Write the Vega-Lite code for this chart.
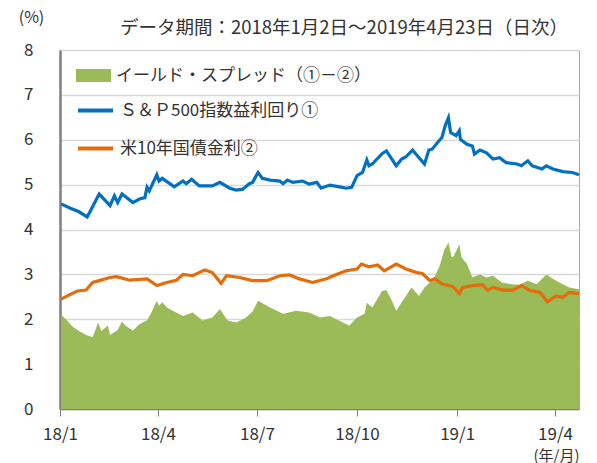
{
  "$schema": "https://vega.github.io/schema/vega-lite/v6.json",
  "width": 519,
  "height": 359,
  "autosize": {"type": "none"},
  "padding": {"left": 60, "top": 50, "right": 18, "bottom": 54},
  "background": "white",
  "config": {
    "font": "Noto Sans CJK JP",
    "view": {"stroke": "#A6A6A6", "strokeWidth": 1}
  },
  "title": {
    "text": "データ期間：2018年1月2日～2019年4月23日（日次）",
    "anchor": "end",
    "frame": "group",
    "fontSize": 18.5,
    "fontWeight": "normal",
    "color": "#333333",
    "font": "Noto Sans CJK JP",
    "baseline": "bottom",
    "offset": -47,
    "dx": -11
  },
  "datasets": {
    "spread": [
      {"date": "2018-01-02", "value": 2.10}, {"date": "2018-01-06", "value": 2.01}, {"date": "2018-01-12", "value": 1.85},
      {"date": "2018-01-17", "value": 1.76}, {"date": "2018-01-25", "value": 1.65}, {"date": "2018-01-31", "value": 1.60},
      {"date": "2018-02-05", "value": 1.93}, {"date": "2018-02-08", "value": 1.74}, {"date": "2018-02-14", "value": 1.86},
      {"date": "2018-02-16", "value": 1.65}, {"date": "2018-02-23", "value": 1.76}, {"date": "2018-02-27", "value": 1.95},
      {"date": "2018-03-02", "value": 1.86}, {"date": "2018-03-09", "value": 1.75}, {"date": "2018-03-15", "value": 1.89},
      {"date": "2018-03-22", "value": 1.98}, {"date": "2018-03-26", "value": 2.15}, {"date": "2018-03-31", "value": 2.41},
      {"date": "2018-04-02", "value": 2.30}, {"date": "2018-04-05", "value": 2.38}, {"date": "2018-04-10", "value": 2.25},
      {"date": "2018-04-16", "value": 2.17}, {"date": "2018-04-24", "value": 2.07}, {"date": "2018-05-03", "value": 2.15},
      {"date": "2018-05-12", "value": 1.97}, {"date": "2018-05-21", "value": 2.04}, {"date": "2018-05-28", "value": 2.23},
      {"date": "2018-06-04", "value": 1.97}, {"date": "2018-06-12", "value": 1.93}, {"date": "2018-06-21", "value": 2.04},
      {"date": "2018-06-27", "value": 2.17}, {"date": "2018-07-02", "value": 2.41}, {"date": "2018-07-13", "value": 2.26},
      {"date": "2018-07-25", "value": 2.12}, {"date": "2018-08-06", "value": 2.19}, {"date": "2018-08-18", "value": 2.15},
      {"date": "2018-08-28", "value": 2.04}, {"date": "2018-09-06", "value": 2.07}, {"date": "2018-09-18", "value": 1.93},
      {"date": "2018-09-24", "value": 1.86}, {"date": "2018-10-01", "value": 2.04}, {"date": "2018-10-08", "value": 2.12},
      {"date": "2018-10-10", "value": 2.37}, {"date": "2018-10-15", "value": 2.26}, {"date": "2018-10-24", "value": 2.63},
      {"date": "2018-10-28", "value": 2.65}, {"date": "2018-11-02", "value": 2.41}, {"date": "2018-11-06", "value": 2.19},
      {"date": "2018-11-12", "value": 2.41}, {"date": "2018-11-20", "value": 2.71}, {"date": "2018-11-27", "value": 2.52},
      {"date": "2018-12-02", "value": 2.71}, {"date": "2018-12-07", "value": 2.82}, {"date": "2018-12-11", "value": 2.93},
      {"date": "2018-12-16", "value": 3.19}, {"date": "2018-12-20", "value": 3.53}, {"date": "2018-12-24", "value": 3.71},
      {"date": "2018-12-27", "value": 3.38}, {"date": "2018-12-29", "value": 3.41}, {"date": "2019-01-03", "value": 3.67},
      {"date": "2019-01-05", "value": 3.38}, {"date": "2019-01-10", "value": 3.23}, {"date": "2019-01-15", "value": 2.93},
      {"date": "2019-01-22", "value": 3.00}, {"date": "2019-01-28", "value": 2.93}, {"date": "2019-02-03", "value": 2.97},
      {"date": "2019-02-11", "value": 2.82}, {"date": "2019-02-20", "value": 2.78}, {"date": "2019-02-27", "value": 2.77},
      {"date": "2019-03-07", "value": 2.86}, {"date": "2019-03-15", "value": 2.78}, {"date": "2019-03-24", "value": 3.00},
      {"date": "2019-03-30", "value": 2.90}, {"date": "2019-04-05", "value": 2.82}, {"date": "2019-04-14", "value": 2.71},
      {"date": "2019-04-23", "value": 2.67}
    ],
    "spx": [
      {"date": "2018-01-02", "value": 4.57}, {"date": "2018-01-10", "value": 4.48}, {"date": "2018-01-18", "value": 4.40},
      {"date": "2018-01-26", "value": 4.28}, {"date": "2018-02-06", "value": 4.79}, {"date": "2018-02-16", "value": 4.53},
      {"date": "2018-02-20", "value": 4.75}, {"date": "2018-02-23", "value": 4.60}, {"date": "2018-02-27", "value": 4.79},
      {"date": "2018-03-09", "value": 4.60}, {"date": "2018-03-15", "value": 4.68}, {"date": "2018-03-20", "value": 4.71},
      {"date": "2018-03-22", "value": 4.94}, {"date": "2018-03-24", "value": 4.86}, {"date": "2018-03-31", "value": 5.22},
      {"date": "2018-04-02", "value": 5.08}, {"date": "2018-04-05", "value": 5.14}, {"date": "2018-04-16", "value": 4.95},
      {"date": "2018-04-24", "value": 5.08}, {"date": "2018-04-27", "value": 5.02}, {"date": "2018-05-02", "value": 5.12},
      {"date": "2018-05-09", "value": 4.97}, {"date": "2018-05-21", "value": 4.97}, {"date": "2018-05-28", "value": 5.05},
      {"date": "2018-06-06", "value": 4.92}, {"date": "2018-06-12", "value": 4.88}, {"date": "2018-06-18", "value": 4.90},
      {"date": "2018-06-24", "value": 5.02}, {"date": "2018-06-27", "value": 5.05}, {"date": "2018-07-02", "value": 5.27},
      {"date": "2018-07-06", "value": 5.14}, {"date": "2018-07-13", "value": 5.10}, {"date": "2018-07-22", "value": 5.08},
      {"date": "2018-07-25", "value": 5.02}, {"date": "2018-07-29", "value": 5.10}, {"date": "2018-08-03", "value": 5.05},
      {"date": "2018-08-12", "value": 5.08}, {"date": "2018-08-18", "value": 5.01}, {"date": "2018-08-25", "value": 5.05},
      {"date": "2018-08-29", "value": 4.92}, {"date": "2018-09-06", "value": 4.99}, {"date": "2018-09-15", "value": 4.95},
      {"date": "2018-09-21", "value": 4.92}, {"date": "2018-09-26", "value": 4.94}, {"date": "2018-10-01", "value": 5.20},
      {"date": "2018-10-06", "value": 5.27}, {"date": "2018-10-10", "value": 5.55}, {"date": "2018-10-12", "value": 5.42},
      {"date": "2018-10-15", "value": 5.46}, {"date": "2018-10-24", "value": 5.69}, {"date": "2018-10-28", "value": 5.75},
      {"date": "2018-11-02", "value": 5.57}, {"date": "2018-11-06", "value": 5.42}, {"date": "2018-11-11", "value": 5.57},
      {"date": "2018-11-15", "value": 5.62}, {"date": "2018-11-21", "value": 5.77}, {"date": "2018-11-27", "value": 5.60},
      {"date": "2018-12-02", "value": 5.46}, {"date": "2018-12-06", "value": 5.77}, {"date": "2018-12-09", "value": 5.79},
      {"date": "2018-12-14", "value": 5.94}, {"date": "2018-12-18", "value": 6.05}, {"date": "2018-12-21", "value": 6.31},
      {"date": "2018-12-24", "value": 6.49}, {"date": "2018-12-26", "value": 6.16}, {"date": "2018-12-31", "value": 6.09},
      {"date": "2019-01-03", "value": 6.20}, {"date": "2019-01-04", "value": 6.01}, {"date": "2019-01-10", "value": 5.90},
      {"date": "2019-01-15", "value": 5.86}, {"date": "2019-01-17", "value": 5.68}, {"date": "2019-01-22", "value": 5.77},
      {"date": "2019-01-28", "value": 5.71}, {"date": "2019-02-03", "value": 5.57}, {"date": "2019-02-09", "value": 5.60},
      {"date": "2019-02-15", "value": 5.49}, {"date": "2019-02-25", "value": 5.46}, {"date": "2019-03-01", "value": 5.42},
      {"date": "2019-03-07", "value": 5.53}, {"date": "2019-03-11", "value": 5.42}, {"date": "2019-03-20", "value": 5.35},
      {"date": "2019-03-24", "value": 5.42}, {"date": "2019-03-30", "value": 5.35}, {"date": "2019-04-08", "value": 5.29},
      {"date": "2019-04-17", "value": 5.27}, {"date": "2019-04-23", "value": 5.22}
    ],
    "ust": [
      {"date": "2018-01-02", "value": 2.45}, {"date": "2018-01-10", "value": 2.55}, {"date": "2018-01-17", "value": 2.63},
      {"date": "2018-01-25", "value": 2.65}, {"date": "2018-01-31", "value": 2.82}, {"date": "2018-02-06", "value": 2.86},
      {"date": "2018-02-16", "value": 2.93}, {"date": "2018-02-22", "value": 2.95}, {"date": "2018-03-06", "value": 2.87},
      {"date": "2018-03-22", "value": 2.90}, {"date": "2018-03-31", "value": 2.75}, {"date": "2018-04-09", "value": 2.82},
      {"date": "2018-04-18", "value": 2.87}, {"date": "2018-04-24", "value": 3.00}, {"date": "2018-05-03", "value": 2.97},
      {"date": "2018-05-14", "value": 3.10}, {"date": "2018-05-21", "value": 3.04}, {"date": "2018-05-29", "value": 2.80},
      {"date": "2018-06-03", "value": 2.97}, {"date": "2018-06-15", "value": 2.93}, {"date": "2018-06-27", "value": 2.86},
      {"date": "2018-07-10", "value": 2.86}, {"date": "2018-07-22", "value": 2.97}, {"date": "2018-07-31", "value": 2.99},
      {"date": "2018-08-09", "value": 2.90}, {"date": "2018-08-21", "value": 2.82}, {"date": "2018-09-03", "value": 2.90},
      {"date": "2018-09-09", "value": 2.97}, {"date": "2018-09-21", "value": 3.08}, {"date": "2018-10-01", "value": 3.12},
      {"date": "2018-10-05", "value": 3.23}, {"date": "2018-10-12", "value": 3.17}, {"date": "2018-10-20", "value": 3.21},
      {"date": "2018-10-26", "value": 3.08}, {"date": "2018-11-06", "value": 3.23}, {"date": "2018-11-15", "value": 3.12},
      {"date": "2018-11-25", "value": 3.04}, {"date": "2018-11-30", "value": 3.02}, {"date": "2018-12-07", "value": 2.86},
      {"date": "2018-12-11", "value": 2.90}, {"date": "2018-12-19", "value": 2.78}, {"date": "2018-12-28", "value": 2.73},
      {"date": "2019-01-03", "value": 2.57}, {"date": "2019-01-06", "value": 2.71}, {"date": "2019-01-15", "value": 2.75},
      {"date": "2019-01-24", "value": 2.77}, {"date": "2019-01-29", "value": 2.65}, {"date": "2019-02-03", "value": 2.71},
      {"date": "2019-02-12", "value": 2.65}, {"date": "2019-02-21", "value": 2.65}, {"date": "2019-03-01", "value": 2.75},
      {"date": "2019-03-09", "value": 2.64}, {"date": "2019-03-18", "value": 2.60}, {"date": "2019-03-25", "value": 2.39},
      {"date": "2019-04-02", "value": 2.52}, {"date": "2019-04-08", "value": 2.49}, {"date": "2019-04-14", "value": 2.60},
      {"date": "2019-04-23", "value": 2.57}
    ]
  },
  "encoding": {
    "x": {
      "field": "date",
      "type": "temporal",
      "scale": {
        "type": "utc",
        "domain": [
          {"year": 2018, "month": 1, "date": 1, "utc": true},
          {"year": 2019, "month": 4, "date": 23, "utc": true}
        ]
      },
      "axis": {
        "title": "(年/月)",
        "values": [
          {"year": 2018, "month": 1, "date": 1, "utc": true},
          {"year": 2018, "month": 4, "date": 1, "utc": true},
          {"year": 2018, "month": 7, "date": 1, "utc": true},
          {"year": 2018, "month": 10, "date": 1, "utc": true},
          {"year": 2019, "month": 1, "date": 1, "utc": true},
          {"year": 2019, "month": 4, "date": 1, "utc": true}
        ],
        "labelExpr": "utcFormat(datum.value, '%y/%-m')",
        "grid": false,
        "domainColor": "#808080",
        "domainWidth": 1.5,
        "tickColor": "#808080",
        "tickSize": 7,
        "labelFontSize": 17,
        "labelColor": "#333333",
        "labelPadding": 10,
        "labelFlush": false,
        "labelOverlap": false,
        "titleFontSize": 15,
        "titleFontWeight": "normal",
        "titleColor": "#333333",
        "titleX": 496,
        "titleY": 46,
        "titleAlign": "center",
        "titleBaseline": "middle"
      }
    },
    "y": {
      "field": "value",
      "type": "quantitative",
      "scale": {"domain": [0, 8], "nice": false, "zero": true},
      "axis": {
        "title": "(%)",
        "values": [0, 1, 2, 3, 4, 5, 6, 7, 8],
        "grid": true,
        "gridColor": "#D9D9D9",
        "gridWidth": 1.3,
        "domainColor": "#7F7F7F",
        "domainWidth": 2.5,
        "ticks": false,
        "labelFontSize": 17,
        "labelColor": "#333333",
        "labelPadding": 27,
        "titleAngle": 0,
        "titleX": -29,
        "titleY": -33,
        "titleAlign": "center",
        "titleBaseline": "middle",
        "titleFontSize": 16,
        "titleFontWeight": "normal",
        "titleColor": "#333333"
      }
    }
  },
  "layer": [
    {
      "data": {"name": "spread"},
      "mark": {"type": "area", "opacity": 1},
      "encoding": {
        "fill": {
          "datum": "イールド・スプレッド（①－②）",
          "type": "nominal",
          "scale": {"range": ["#9BBB59"]},
          "legend": {
            "orient": "none",
            "legendX": 16,
            "legendY": 8,
            "title": null,
            "padding": 0,
            "symbolType": "M-1,-0.37H1V0.37H-1Z",
            "symbolSize": 1225,
            "symbolStrokeWidth": 0,
            "symbolOpacity": 1,
            "labelFontSize": 17,
            "labelColor": "#333333",
            "labelFont": "Noto Sans CJK JP",
            "labelOffset": 5,
            "labelLimit": 0
          }
        }
      }
    },
    {
      "data": {"name": "spx"},
      "mark": {"type": "line", "strokeWidth": 3.2},
      "encoding": {
        "stroke": {
          "datum": "Ｓ＆Ｐ500指数益利回り①",
          "type": "nominal",
          "scale": {
            "domain": ["Ｓ＆Ｐ500指数益利回り①", "米10年国債金利②"],
            "range": ["#0070C0", "#E46C0A"]
          },
          "legend": {
            "orient": "none",
            "legendX": 16,
            "legendY": 41,
            "title": null,
            "padding": 0,
            "symbolType": "stroke",
            "symbolSize": 1225,
            "symbolStrokeWidth": 4,
            "labelFontSize": 17,
            "labelColor": "#333333",
            "labelFont": "Noto Sans CJK JP",
            "labelOffset": 5,
            "labelLimit": 0,
            "rowPadding": 10
          }
        }
      }
    },
    {
      "data": {"name": "ust"},
      "mark": {"type": "line", "strokeWidth": 3.2},
      "encoding": {
        "stroke": {"datum": "米10年国債金利②", "type": "nominal"}
      }
    }
  ]
}
